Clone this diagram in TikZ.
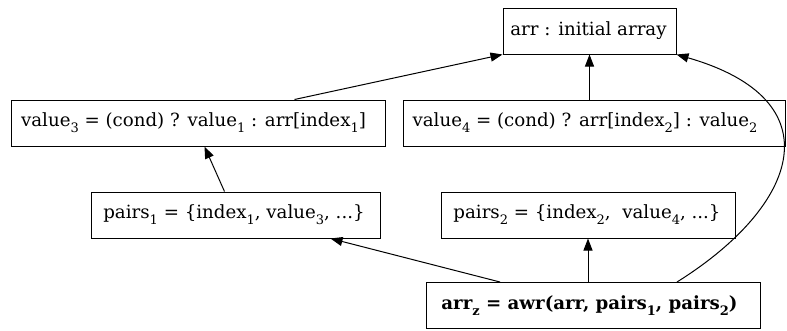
\documentclass[tikz,border=0pt]{standalone}
\usepackage{fontspec}
\setmainfont{DejaVu Serif}
\usetikzlibrary{arrows.meta,calc}
\newcommand\mysub[1]{\raisebox{-0.65ex}{\fontsize{13}{14}\selectfont #1}}
\newcommand\padright[1]{\hspace*{#1}}
\begin{document}
\begin{tikzpicture}[x=1pt,y=-1pt,
  box/.style={draw, line width=1pt, minimum height=46pt, inner sep=0pt, font=\fontsize{18.2}{20}\selectfont},
  edge/.style={line width=1pt, -{Triangle[length=12pt,width=9pt]}}]
\useasboundingbox (0,0) rectangle (787,330);
\node[box, minimum width=173pt] (arr) at (589.5,31) {arr : initial array\padright{2pt}};
\node[box, minimum width=374pt] (v3) at (198,123) {value\mysub{3} = (cond) ? value\mysub{1} : arr[index\mysub{1}]\padright{9pt}};
\node[box, minimum width=382pt] (v4) at (594,123) {value\mysub{4} = (cond) ? arr[index\mysub{2}] : value\mysub{2}\padright{18pt}};
\node[box, minimum width=289pt] (p1) at (235.5,215) {pairs\mysub{1} = \{index\mysub{1}, value\mysub{3}, ...\}\padright{3pt}};
\node[box, minimum width=294pt] (p2) at (588,215) {pairs\mysub{2} = \{index\mysub{2},\ \ value\mysub{4}, ...\}\padright{2pt}};
\node[box, minimum width=334pt, font=\fontsize{18.2}{20}\selectfont\bfseries] (az) at (593.5,305.5) {arr\mysub{\bfseries z} = awr(arr, pairs\mysub{\bfseries 1}, pairs\mysub{\bfseries 2})\padright{8pt}};
\draw[edge] ($(az.north west)+(74,0)$) -- ($(p1.south east)+(-50,0)$);
\draw[edge] (az.north -| p2.south) -- (p2.south);
\draw[edge] ($(az.north east)+(-84,0)$) .. controls (800,205) and (835,100) .. (arr.south east);
\draw[edge] ($(p1.north west)+(134,0)$) -- ($(v3.south west)+(194,0)$);
\draw[edge] ($(v3.north west)+(284,0)$) -- (arr.south west);
\draw[edge] (arr.south |- v4.north) -- (arr.south);
\end{tikzpicture}
\end{document}
